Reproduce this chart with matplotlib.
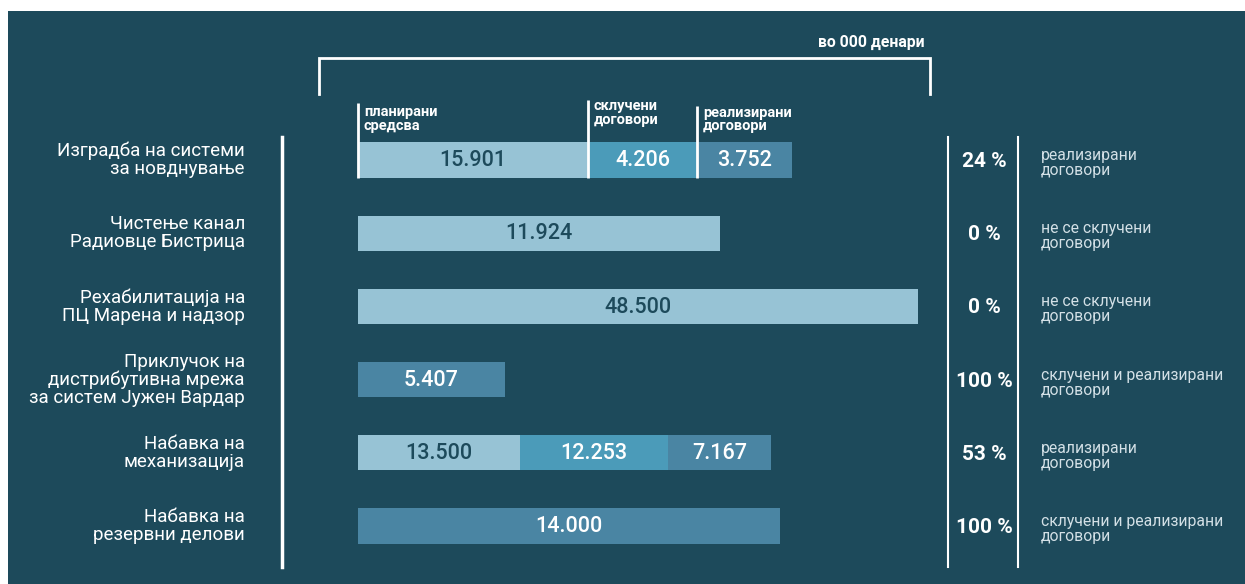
import matplotlib
matplotlib.use("Agg")
import matplotlib.pyplot as plt
from matplotlib.patches import Rectangle
from matplotlib.lines import Line2D
import matplotlib.transforms as mtransforms

# ---------------- data ----------------
categories = [
    "Изградба на системи\nза новднување",
    "Чистење канал\nРадиовце Бистрица",
    "Рехабилитација на\nПЦ Марена и надзор",
    "Приклучок на\nдистрибутивна мрежа\nза систем Јужен Вардар",
    "Набавка на\nмеханизација",
    "Набавка на\nрезервни делови",
]
# segment values (in 000 денари) and their types: 0=planned, 1=contracted, 2=realized
seg_values = [
    ["15.901", "4.206", "3.752"],
    ["11.924"],
    ["48.500"],
    ["5.407"],
    ["13.500", "12.253", "7.167"],
    ["14.000"],
]
seg_types = [
    [0, 1, 2],
    [0],
    [0],
    [2],
    [0, 1, 2],
    [2],
]
# drawn segment lengths as shown in the infographic (not proportional to values)
seg_lengths = [
    [230, 109, 95],
    [362],
    [560],
    [147],
    [162, 148, 103],
    [422],
]
percents = ["24 %", "0 %", "0 %", "100 %", "53 %", "100 %"]
status = [
    "реализирани\nдоговори",
    "не се склучени\nдоговори",
    "не се склучени\nдоговори",
    "склучени и реализирани\nдоговори",
    "реализирани\nдоговори",
    "склучени и реализирани\nдоговори",
]
headers = ["планирани\nсредсва", "склучени\nдоговори", "реализирани\nдоговори"]
unit_label = "во 000 денари"

# ---------------- style ----------------
BG = "#1d4a5b"
seg_colors = ["#97c3d5", "#4b9bb9", "#4a85a3"]
seg_text = [BG, "white", "white"]
FONT = ["Roboto", "DejaVu Sans"]
plt.rcParams["font.family"] = FONT

W, H = 1245, 584
fig = plt.figure(figsize=(W / 100, H / 100), dpi=100, facecolor="white")

def fx(px):
    return px / W

def fy(py):
    return 1 - py / H

# dark panel
fig.patches.append(Rectangle((fx(8), 0), 1 - fx(8), fy(11), transform=fig.transFigure,
                             facecolor=BG, edgecolor="none", zorder=-10))

# bar axes
x0, x1 = 358, 918
row0, row5 = 160, 526
step = (row5 - row0) / 5
ytop = row0 - step / 2
ybot = row5 + step / 2
ax = fig.add_axes([fx(x0), fy(ybot), fx(x1) - fx(x0), fy(ytop) - fy(ybot)])
ax.set_zorder(5)
ax.set_xlim(0, x1 - x0)
ax.set_ylim(5.5, -0.5)
ax.axis("off")
ax.patch.set_alpha(0)

bar_h = 0.48
for i, (vals, types, lens) in enumerate(zip(seg_values, seg_types, seg_lengths)):
    left = 0
    for v, t, L in zip(vals, types, lens):
        ax.barh(i, L, left=left, height=bar_h, color=seg_colors[t], edgecolor="none")
        ax.text(left + L / 2, i + 0.01, v, ha="center", va="center", fontsize=15.5,
                color=seg_text[t], fontweight="medium")
        left += L

# column header ticks for first row
left = 0
hdr_text_y = [-0.56, -0.64, -0.55]
hdr_line_top = [-0.78, -0.82, -0.74]
for j, (L, hd) in enumerate(zip(seg_lengths[0], headers)):
    ax.plot([left, left], [bar_h / 2, hdr_line_top[j]], color="white", lw=2,
            solid_capstyle="butt", clip_on=False)
    ax.text(left + 6, hdr_text_y[j], hd, ha="left", va="center", fontsize=10.5,
            color="white", fontweight="bold", linespacing=0.95)
    left += L

# category labels
trans_lbl = mtransforms.blended_transform_factory(fig.transFigure, ax.transData)
for i, c in enumerate(categories):
    ax.text(fx(245), i, c, transform=trans_lbl, ha="right", va="center", fontsize=13.5,
            color="white", linespacing=0.98, clip_on=False)
    ax.text(fx(984), i + 0.02, percents[i], transform=trans_lbl, ha="center", va="center",
            fontsize=15, color="white", fontweight="bold", clip_on=False)
    ax.text(fx(1041), i + 0.04, status[i], transform=trans_lbl, ha="left", va="center",
            fontsize=11.3, color="#d3e0e6", linespacing=1.0, clip_on=False)

# vertical lines
for xp in (282, 948, 1018):
    fig.add_artist(Line2D([fx(xp), fx(xp)], [fy(137), fy(567)], transform=fig.transFigure,
                          color="white", lw=2.5 if xp == 282 else 1.5))

# bracket
fig.add_artist(Line2D([fx(319), fx(319), fx(930), fx(930)], [fy(94), fy(58), fy(58), fy(94)],
                      transform=fig.transFigure, color="white", lw=2, solid_joinstyle="miter"))
fig.text(fx(925), fy(42), unit_label, ha="right", va="center", fontsize=11.3,
         color="white", fontweight="bold")

fig.savefig("out.png", dpi=100, facecolor="white")
